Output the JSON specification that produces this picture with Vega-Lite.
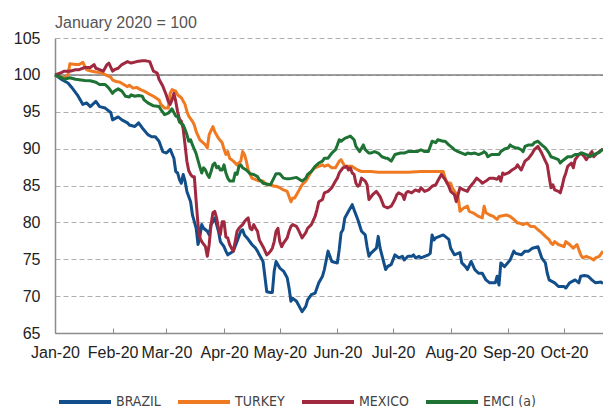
{
"$schema": "https://vega.github.io/schema/vega-lite/v6.json",
"width": 548, "height": 295,
"autosize": {"type": "none"},
"padding": {"left": 55, "top": 38, "right": 0, "bottom": 74},
"config": {"view": {"stroke": null}},
"title": {"text": "January 2020 = 100", "anchor": "start", "frame": "group", "font": "Liberation Sans", "fontSize": 16, "fontWeight": "normal", "color": "#555555", "baseline": "alphabetic", "offset": 11, "dy": 25},
"datasets": {"idx": [
{"series":"BRAZIL","date":"2020/01/01","value":100},
{"series":"BRAZIL","date":"2020/01/05","value":99.3},
{"series":"BRAZIL","date":"2020/01/08","value":98.9},
{"series":"BRAZIL","date":"2020/01/10","value":98.3},
{"series":"BRAZIL","date":"2020/01/13","value":97.3},
{"series":"BRAZIL","date":"2020/01/16","value":96.0},
{"series":"BRAZIL","date":"2020/01/18","value":96.2},
{"series":"BRAZIL","date":"2020/01/20","value":95.7},
{"series":"BRAZIL","date":"2020/01/23","value":96.4},
{"series":"BRAZIL","date":"2020/01/25","value":95.7},
{"series":"BRAZIL","date":"2020/01/28","value":95.5},
{"series":"BRAZIL","date":"2020/01/31","value":94.9},
{"series":"BRAZIL","date":"2020/02/01","value":93.9},
{"series":"BRAZIL","date":"2020/02/04","value":94.3},
{"series":"BRAZIL","date":"2020/02/06","value":93.9},
{"series":"BRAZIL","date":"2020/02/09","value":93.5},
{"series":"BRAZIL","date":"2020/02/10","value":93.2},
{"series":"BRAZIL","date":"2020/02/13","value":93.0},
{"series":"BRAZIL","date":"2020/02/15","value":93.5},
{"series":"BRAZIL","date":"2020/02/17","value":92.8},
{"series":"BRAZIL","date":"2020/02/20","value":91.9},
{"series":"BRAZIL","date":"2020/02/22","value":91.6},
{"series":"BRAZIL","date":"2020/02/24","value":91.6},
{"series":"BRAZIL","date":"2020/02/26","value":91.0},
{"series":"BRAZIL","date":"2020/02/28","value":89.6},
{"series":"BRAZIL","date":"2020/03/01","value":89.4},
{"series":"BRAZIL","date":"2020/03/03","value":89.9},
{"series":"BRAZIL","date":"2020/03/05","value":88.7},
{"series":"BRAZIL","date":"2020/03/06","value":86.9},
{"series":"BRAZIL","date":"2020/03/07","value":86.7},
{"series":"BRAZIL","date":"2020/03/08","value":85.8},
{"series":"BRAZIL","date":"2020/03/09","value":85.3},
{"series":"BRAZIL","date":"2020/03/10","value":86.5},
{"series":"BRAZIL","date":"2020/03/11","value":85.6},
{"series":"BRAZIL","date":"2020/03/12","value":84.2},
{"series":"BRAZIL","date":"2020/03/14","value":82.8},
{"series":"BRAZIL","date":"2020/03/15","value":81.0},
{"series":"BRAZIL","date":"2020/03/16","value":80.1},
{"series":"BRAZIL","date":"2020/03/17","value":79.2},
{"series":"BRAZIL","date":"2020/03/18","value":77.0},
{"series":"BRAZIL","date":"2020/03/19","value":78.1},
{"series":"BRAZIL","date":"2020/03/20","value":79.7},
{"series":"BRAZIL","date":"2020/03/21","value":79.2},
{"series":"BRAZIL","date":"2020/03/23","value":78.8},
{"series":"BRAZIL","date":"2020/03/24","value":78.3},
{"series":"BRAZIL","date":"2020/03/25","value":79.7},
{"series":"BRAZIL","date":"2020/03/26","value":80.1},
{"series":"BRAZIL","date":"2020/03/27","value":80.6},
{"series":"BRAZIL","date":"2020/03/28","value":79.7},
{"series":"BRAZIL","date":"2020/03/29","value":78.8},
{"series":"BRAZIL","date":"2020/03/30","value":77.4},
{"series":"BRAZIL","date":"2020/04/01","value":76.7},
{"series":"BRAZIL","date":"2020/04/02","value":76.1},
{"series":"BRAZIL","date":"2020/04/03","value":75.6},
{"series":"BRAZIL","date":"2020/04/06","value":76.1},
{"series":"BRAZIL","date":"2020/04/08","value":77.4},
{"series":"BRAZIL","date":"2020/04/10","value":78.8},
{"series":"BRAZIL","date":"2020/04/11","value":79.0},
{"series":"BRAZIL","date":"2020/04/12","value":78.3},
{"series":"BRAZIL","date":"2020/04/14","value":77.7},
{"series":"BRAZIL","date":"2020/04/16","value":77.0},
{"series":"BRAZIL","date":"2020/04/18","value":76.5},
{"series":"BRAZIL","date":"2020/04/19","value":76.1},
{"series":"BRAZIL","date":"2020/04/20","value":75.6},
{"series":"BRAZIL","date":"2020/04/22","value":74.7},
{"series":"BRAZIL","date":"2020/04/24","value":70.6},
{"series":"BRAZIL","date":"2020/04/26","value":70.5},
{"series":"BRAZIL","date":"2020/04/27","value":70.5},
{"series":"BRAZIL","date":"2020/04/28","value":73.4},
{"series":"BRAZIL","date":"2020/04/29","value":74.7},
{"series":"BRAZIL","date":"2020/05/01","value":73.8},
{"series":"BRAZIL","date":"2020/05/03","value":73.4},
{"series":"BRAZIL","date":"2020/05/05","value":72.5},
{"series":"BRAZIL","date":"2020/05/06","value":71.1},
{"series":"BRAZIL","date":"2020/05/07","value":69.3},
{"series":"BRAZIL","date":"2020/05/08","value":69.7},
{"series":"BRAZIL","date":"2020/05/10","value":69.3},
{"series":"BRAZIL","date":"2020/05/13","value":67.9},
{"series":"BRAZIL","date":"2020/05/15","value":68.6},
{"series":"BRAZIL","date":"2020/05/16","value":69.5},
{"series":"BRAZIL","date":"2020/05/18","value":70.2},
{"series":"BRAZIL","date":"2020/05/20","value":70.4},
{"series":"BRAZIL","date":"2020/05/22","value":71.8},
{"series":"BRAZIL","date":"2020/05/24","value":72.7},
{"series":"BRAZIL","date":"2020/05/25","value":73.6},
{"series":"BRAZIL","date":"2020/05/27","value":76.1},
{"series":"BRAZIL","date":"2020/05/29","value":74.7},
{"series":"BRAZIL","date":"2020/06/01","value":74.5},
{"series":"BRAZIL","date":"2020/06/02","value":76.3},
{"series":"BRAZIL","date":"2020/06/03","value":78.6},
{"series":"BRAZIL","date":"2020/06/04","value":79.0},
{"series":"BRAZIL","date":"2020/06/05","value":80.6},
{"series":"BRAZIL","date":"2020/06/07","value":81.5},
{"series":"BRAZIL","date":"2020/06/09","value":82.4},
{"series":"BRAZIL","date":"2020/06/10","value":81.7},
{"series":"BRAZIL","date":"2020/06/12","value":80.4},
{"series":"BRAZIL","date":"2020/06/14","value":78.8},
{"series":"BRAZIL","date":"2020/06/16","value":78.3},
{"series":"BRAZIL","date":"2020/06/17","value":76.7},
{"series":"BRAZIL","date":"2020/06/18","value":75.4},
{"series":"BRAZIL","date":"2020/06/19","value":75.8},
{"series":"BRAZIL","date":"2020/06/22","value":76.5},
{"series":"BRAZIL","date":"2020/06/23","value":78.1},
{"series":"BRAZIL","date":"2020/06/24","value":76.5},
{"series":"BRAZIL","date":"2020/06/27","value":73.6},
{"series":"BRAZIL","date":"2020/06/28","value":74.0},
{"series":"BRAZIL","date":"2020/06/30","value":74.3},
{"series":"BRAZIL","date":"2020/07/02","value":75.6},
{"series":"BRAZIL","date":"2020/07/04","value":75.2},
{"series":"BRAZIL","date":"2020/07/06","value":75.4},
{"series":"BRAZIL","date":"2020/07/07","value":74.9},
{"series":"BRAZIL","date":"2020/07/09","value":75.4},
{"series":"BRAZIL","date":"2020/07/11","value":75.4},
{"series":"BRAZIL","date":"2020/07/12","value":75.6},
{"series":"BRAZIL","date":"2020/07/13","value":75.2},
{"series":"BRAZIL","date":"2020/07/15","value":75.4},
{"series":"BRAZIL","date":"2020/07/16","value":75.2},
{"series":"BRAZIL","date":"2020/07/18","value":75.4},
{"series":"BRAZIL","date":"2020/07/20","value":75.6},
{"series":"BRAZIL","date":"2020/07/21","value":75.8},
{"series":"BRAZIL","date":"2020/07/22","value":78.3},
{"series":"BRAZIL","date":"2020/07/23","value":77.6},
{"series":"BRAZIL","date":"2020/07/24","value":77.9},
{"series":"BRAZIL","date":"2020/07/26","value":78.1},
{"series":"BRAZIL","date":"2020/07/28","value":78.3},
{"series":"BRAZIL","date":"2020/07/29","value":78.1},
{"series":"BRAZIL","date":"2020/07/31","value":77.7},
{"series":"BRAZIL","date":"2020/08/01","value":76.5},
{"series":"BRAZIL","date":"2020/08/03","value":75.6},
{"series":"BRAZIL","date":"2020/08/06","value":75.9},
{"series":"BRAZIL","date":"2020/08/07","value":74.5},
{"series":"BRAZIL","date":"2020/08/09","value":74.0},
{"series":"BRAZIL","date":"2020/08/10","value":73.6},
{"series":"BRAZIL","date":"2020/08/12","value":74.7},
{"series":"BRAZIL","date":"2020/08/14","value":73.6},
{"series":"BRAZIL","date":"2020/08/16","value":73.1},
{"series":"BRAZIL","date":"2020/08/18","value":73.1},
{"series":"BRAZIL","date":"2020/08/20","value":72.2},
{"series":"BRAZIL","date":"2020/08/22","value":71.8},
{"series":"BRAZIL","date":"2020/08/25","value":71.8},
{"series":"BRAZIL","date":"2020/08/26","value":72.7},
{"series":"BRAZIL","date":"2020/08/27","value":71.5},
{"series":"BRAZIL","date":"2020/08/28","value":74.5},
{"series":"BRAZIL","date":"2020/08/30","value":74.0},
{"series":"BRAZIL","date":"2020/09/02","value":74.9},
{"series":"BRAZIL","date":"2020/09/04","value":76.1},
{"series":"BRAZIL","date":"2020/09/05","value":75.8},
{"series":"BRAZIL","date":"2020/09/08","value":75.6},
{"series":"BRAZIL","date":"2020/09/10","value":76.1},
{"series":"BRAZIL","date":"2020/09/12","value":76.1},
{"series":"BRAZIL","date":"2020/09/14","value":76.5},
{"series":"BRAZIL","date":"2020/09/17","value":76.7},
{"series":"BRAZIL","date":"2020/09/19","value":75.2},
{"series":"BRAZIL","date":"2020/09/21","value":74.5},
{"series":"BRAZIL","date":"2020/09/22","value":73.1},
{"series":"BRAZIL","date":"2020/09/23","value":72.2},
{"series":"BRAZIL","date":"2020/09/26","value":71.8},
{"series":"BRAZIL","date":"2020/09/28","value":71.3},
{"series":"BRAZIL","date":"2020/10/01","value":71.3},
{"series":"BRAZIL","date":"2020/10/02","value":71.1},
{"series":"BRAZIL","date":"2020/10/04","value":71.8},
{"series":"BRAZIL","date":"2020/10/07","value":72.2},
{"series":"BRAZIL","date":"2020/10/09","value":71.8},
{"series":"BRAZIL","date":"2020/10/10","value":72.7},
{"series":"BRAZIL","date":"2020/10/12","value":72.8},
{"series":"BRAZIL","date":"2020/10/14","value":72.7},
{"series":"BRAZIL","date":"2020/10/16","value":72.2},
{"series":"BRAZIL","date":"2020/10/18","value":71.8},
{"series":"BRAZIL","date":"2020/10/21","value":71.9},
{"series":"BRAZIL","date":"2020/10/22","value":71.7},
{"series":"TURKEY","date":"2020/01/01","value":100},
{"series":"TURKEY","date":"2020/01/04","value":99.7},
{"series":"TURKEY","date":"2020/01/06","value":99.6},
{"series":"TURKEY","date":"2020/01/08","value":100.0},
{"series":"TURKEY","date":"2020/01/09","value":101.5},
{"series":"TURKEY","date":"2020/01/12","value":101.4},
{"series":"TURKEY","date":"2020/01/14","value":101.4},
{"series":"TURKEY","date":"2020/01/16","value":101.7},
{"series":"TURKEY","date":"2020/01/18","value":100.7},
{"series":"TURKEY","date":"2020/01/21","value":100.5},
{"series":"TURKEY","date":"2020/01/23","value":100.4},
{"series":"TURKEY","date":"2020/01/26","value":100.3},
{"series":"TURKEY","date":"2020/01/29","value":99.9},
{"series":"TURKEY","date":"2020/01/31","value":99.7},
{"series":"TURKEY","date":"2020/02/01","value":99.3},
{"series":"TURKEY","date":"2020/02/03","value":99.1},
{"series":"TURKEY","date":"2020/02/05","value":99.0},
{"series":"TURKEY","date":"2020/02/07","value":98.7},
{"series":"TURKEY","date":"2020/02/09","value":98.4},
{"series":"TURKEY","date":"2020/02/10","value":98.6},
{"series":"TURKEY","date":"2020/02/12","value":98.2},
{"series":"TURKEY","date":"2020/02/14","value":98.3},
{"series":"TURKEY","date":"2020/02/16","value":98.0},
{"series":"TURKEY","date":"2020/02/18","value":97.8},
{"series":"TURKEY","date":"2020/02/20","value":97.5},
{"series":"TURKEY","date":"2020/02/23","value":97.1},
{"series":"TURKEY","date":"2020/02/26","value":96.6},
{"series":"TURKEY","date":"2020/02/27","value":96.0},
{"series":"TURKEY","date":"2020/02/29","value":95.5},
{"series":"TURKEY","date":"2020/03/02","value":95.5},
{"series":"TURKEY","date":"2020/03/03","value":97.5},
{"series":"TURKEY","date":"2020/03/04","value":98.0},
{"series":"TURKEY","date":"2020/03/06","value":97.8},
{"series":"TURKEY","date":"2020/03/07","value":97.3},
{"series":"TURKEY","date":"2020/03/09","value":96.9},
{"series":"TURKEY","date":"2020/03/11","value":96.0},
{"series":"TURKEY","date":"2020/03/12","value":95.05},
{"series":"TURKEY","date":"2020/03/13","value":94.4},
{"series":"TURKEY","date":"2020/03/15","value":93.7},
{"series":"TURKEY","date":"2020/03/16","value":93.2},
{"series":"TURKEY","date":"2020/03/17","value":92.3},
{"series":"TURKEY","date":"2020/03/19","value":91.2},
{"series":"TURKEY","date":"2020/03/22","value":90.5},
{"series":"TURKEY","date":"2020/03/23","value":90.1},
{"series":"TURKEY","date":"2020/03/24","value":91.9},
{"series":"TURKEY","date":"2020/03/26","value":93.0},
{"series":"TURKEY","date":"2020/03/27","value":92.3},
{"series":"TURKEY","date":"2020/03/29","value":91.4},
{"series":"TURKEY","date":"2020/03/31","value":90.8},
{"series":"TURKEY","date":"2020/04/01","value":89.9},
{"series":"TURKEY","date":"2020/04/02","value":89.2},
{"series":"TURKEY","date":"2020/04/03","value":89.6},
{"series":"TURKEY","date":"2020/04/04","value":88.7},
{"series":"TURKEY","date":"2020/04/06","value":88.3},
{"series":"TURKEY","date":"2020/04/08","value":87.8},
{"series":"TURKEY","date":"2020/04/10","value":88.3},
{"series":"TURKEY","date":"2020/04/11","value":89.6},
{"series":"TURKEY","date":"2020/04/12","value":89.2},
{"series":"TURKEY","date":"2020/04/13","value":88.3},
{"series":"TURKEY","date":"2020/04/14","value":87.1},
{"series":"TURKEY","date":"2020/04/16","value":86.0},
{"series":"TURKEY","date":"2020/04/18","value":85.8},
{"series":"TURKEY","date":"2020/04/20","value":85.6},
{"series":"TURKEY","date":"2020/04/22","value":85.6},
{"series":"TURKEY","date":"2020/04/24","value":85.1},
{"series":"TURKEY","date":"2020/04/26","value":85.1},
{"series":"TURKEY","date":"2020/04/28","value":84.9},
{"series":"TURKEY","date":"2020/04/29","value":84.9},
{"series":"TURKEY","date":"2020/05/01","value":84.7},
{"series":"TURKEY","date":"2020/05/03","value":84.4},
{"series":"TURKEY","date":"2020/05/05","value":84.2},
{"series":"TURKEY","date":"2020/05/07","value":82.8},
{"series":"TURKEY","date":"2020/05/08","value":83.3},
{"series":"TURKEY","date":"2020/05/09","value":83.3},
{"series":"TURKEY","date":"2020/05/11","value":84.2},
{"series":"TURKEY","date":"2020/05/13","value":85.1},
{"series":"TURKEY","date":"2020/05/15","value":85.6},
{"series":"TURKEY","date":"2020/05/16","value":86.0},
{"series":"TURKEY","date":"2020/05/18","value":86.9},
{"series":"TURKEY","date":"2020/05/20","value":87.4},
{"series":"TURKEY","date":"2020/05/22","value":87.6},
{"series":"TURKEY","date":"2020/05/24","value":87.8},
{"series":"TURKEY","date":"2020/05/25","value":87.6},
{"series":"TURKEY","date":"2020/05/27","value":87.8},
{"series":"TURKEY","date":"2020/05/29","value":87.4},
{"series":"TURKEY","date":"2020/05/31","value":87.4},
{"series":"TURKEY","date":"2020/06/02","value":88.3},
{"series":"TURKEY","date":"2020/06/03","value":88.5},
{"series":"TURKEY","date":"2020/06/04","value":88.05},
{"series":"TURKEY","date":"2020/06/05","value":87.6},
{"series":"TURKEY","date":"2020/06/09","value":87.6},
{"series":"TURKEY","date":"2020/06/10","value":87.4},
{"series":"TURKEY","date":"2020/06/12","value":87.1},
{"series":"TURKEY","date":"2020/06/14","value":86.9},
{"series":"TURKEY","date":"2020/06/19","value":86.9},
{"series":"TURKEY","date":"2020/06/23","value":86.8},
{"series":"TURKEY","date":"2020/06/27","value":86.8},
{"series":"TURKEY","date":"2020/07/02","value":86.8},
{"series":"TURKEY","date":"2020/07/09","value":86.8},
{"series":"TURKEY","date":"2020/07/16","value":86.9},
{"series":"TURKEY","date":"2020/07/20","value":86.9},
{"series":"TURKEY","date":"2020/07/28","value":86.9},
{"series":"TURKEY","date":"2020/07/29","value":86.0},
{"series":"TURKEY","date":"2020/07/30","value":85.4},
{"series":"TURKEY","date":"2020/08/01","value":85.3},
{"series":"TURKEY","date":"2020/08/02","value":84.6},
{"series":"TURKEY","date":"2020/08/05","value":83.5},
{"series":"TURKEY","date":"2020/08/06","value":81.5},
{"series":"TURKEY","date":"2020/08/08","value":81.95},
{"series":"TURKEY","date":"2020/08/10","value":82.2},
{"series":"TURKEY","date":"2020/08/11","value":81.5},
{"series":"TURKEY","date":"2020/08/13","value":81.3},
{"series":"TURKEY","date":"2020/08/16","value":80.8},
{"series":"TURKEY","date":"2020/08/18","value":80.6},
{"series":"TURKEY","date":"2020/08/19","value":82.2},
{"series":"TURKEY","date":"2020/08/20","value":81.3},
{"series":"TURKEY","date":"2020/08/22","value":81.0},
{"series":"TURKEY","date":"2020/08/24","value":80.8},
{"series":"TURKEY","date":"2020/08/26","value":80.4},
{"series":"TURKEY","date":"2020/08/27","value":80.8},
{"series":"TURKEY","date":"2020/08/31","value":81.0},
{"series":"TURKEY","date":"2020/09/02","value":80.8},
{"series":"TURKEY","date":"2020/09/04","value":80.4},
{"series":"TURKEY","date":"2020/09/06","value":79.9},
{"series":"TURKEY","date":"2020/09/07","value":79.9},
{"series":"TURKEY","date":"2020/09/09","value":79.7},
{"series":"TURKEY","date":"2020/09/11","value":79.9},
{"series":"TURKEY","date":"2020/09/13","value":79.45},
{"series":"TURKEY","date":"2020/09/15","value":79.45},
{"series":"TURKEY","date":"2020/09/17","value":79.0},
{"series":"TURKEY","date":"2020/09/19","value":78.6},
{"series":"TURKEY","date":"2020/09/21","value":78.1},
{"series":"TURKEY","date":"2020/09/23","value":77.65},
{"series":"TURKEY","date":"2020/09/24","value":77.2},
{"series":"TURKEY","date":"2020/09/25","value":77.0},
{"series":"TURKEY","date":"2020/09/26","value":77.4},
{"series":"TURKEY","date":"2020/09/28","value":77.0},
{"series":"TURKEY","date":"2020/10/01","value":76.7},
{"series":"TURKEY","date":"2020/10/02","value":77.4},
{"series":"TURKEY","date":"2020/10/04","value":77.0},
{"series":"TURKEY","date":"2020/10/06","value":76.5},
{"series":"TURKEY","date":"2020/10/08","value":77.0},
{"series":"TURKEY","date":"2020/10/10","value":75.6},
{"series":"TURKEY","date":"2020/10/11","value":75.2},
{"series":"TURKEY","date":"2020/10/13","value":75.4},
{"series":"TURKEY","date":"2020/10/15","value":75.2},
{"series":"TURKEY","date":"2020/10/17","value":74.9},
{"series":"TURKEY","date":"2020/10/18","value":75.2},
{"series":"TURKEY","date":"2020/10/20","value":75.4},
{"series":"TURKEY","date":"2020/10/22","value":76.1},
{"series":"MEXICO","date":"2020/01/01","value":100},
{"series":"MEXICO","date":"2020/01/04","value":100.25},
{"series":"MEXICO","date":"2020/01/06","value":100.5},
{"series":"MEXICO","date":"2020/01/09","value":100.5},
{"series":"MEXICO","date":"2020/01/12","value":100.7},
{"series":"MEXICO","date":"2020/01/14","value":100.7},
{"series":"MEXICO","date":"2020/01/17","value":101.0},
{"series":"MEXICO","date":"2020/01/20","value":101.0},
{"series":"MEXICO","date":"2020/01/22","value":101.4},
{"series":"MEXICO","date":"2020/01/23","value":100.9},
{"series":"MEXICO","date":"2020/01/25","value":100.7},
{"series":"MEXICO","date":"2020/01/27","value":100.5},
{"series":"MEXICO","date":"2020/01/29","value":101.4},
{"series":"MEXICO","date":"2020/01/30","value":101.6},
{"series":"MEXICO","date":"2020/02/01","value":100.5},
{"series":"MEXICO","date":"2020/02/02","value":100.7},
{"series":"MEXICO","date":"2020/02/04","value":100.9},
{"series":"MEXICO","date":"2020/02/06","value":101.4},
{"series":"MEXICO","date":"2020/02/09","value":101.8},
{"series":"MEXICO","date":"2020/02/11","value":101.6},
{"series":"MEXICO","date":"2020/02/14","value":101.8},
{"series":"MEXICO","date":"2020/02/17","value":101.9},
{"series":"MEXICO","date":"2020/02/19","value":101.9},
{"series":"MEXICO","date":"2020/02/21","value":101.8},
{"series":"MEXICO","date":"2020/02/23","value":100.5},
{"series":"MEXICO","date":"2020/02/25","value":100.25},
{"series":"MEXICO","date":"2020/02/26","value":99.4},
{"series":"MEXICO","date":"2020/02/28","value":98.5},
{"series":"MEXICO","date":"2020/03/01","value":97.2},
{"series":"MEXICO","date":"2020/03/02","value":96.4},
{"series":"MEXICO","date":"2020/03/03","value":96.0},
{"series":"MEXICO","date":"2020/03/04","value":96.6},
{"series":"MEXICO","date":"2020/03/05","value":97.5},
{"series":"MEXICO","date":"2020/03/06","value":96.4},
{"series":"MEXICO","date":"2020/03/07","value":95.0},
{"series":"MEXICO","date":"2020/03/08","value":94.0},
{"series":"MEXICO","date":"2020/03/09","value":93.7},
{"series":"MEXICO","date":"2020/03/10","value":92.7},
{"series":"MEXICO","date":"2020/03/11","value":90.5},
{"series":"MEXICO","date":"2020/03/12","value":88.3},
{"series":"MEXICO","date":"2020/03/13","value":87.0},
{"series":"MEXICO","date":"2020/03/14","value":86.5},
{"series":"MEXICO","date":"2020/03/15","value":86.2},
{"series":"MEXICO","date":"2020/03/16","value":86.2},
{"series":"MEXICO","date":"2020/03/17","value":82.8},
{"series":"MEXICO","date":"2020/03/18","value":79.7},
{"series":"MEXICO","date":"2020/03/19","value":77.9},
{"series":"MEXICO","date":"2020/03/20","value":77.4},
{"series":"MEXICO","date":"2020/03/22","value":76.7},
{"series":"MEXICO","date":"2020/03/23","value":75.4},
{"series":"MEXICO","date":"2020/03/24","value":77.0},
{"series":"MEXICO","date":"2020/03/25","value":79.7},
{"series":"MEXICO","date":"2020/03/26","value":81.3},
{"series":"MEXICO","date":"2020/03/27","value":81.5},
{"series":"MEXICO","date":"2020/03/28","value":80.6},
{"series":"MEXICO","date":"2020/03/29","value":79.2},
{"series":"MEXICO","date":"2020/03/30","value":78.3},
{"series":"MEXICO","date":"2020/03/31","value":80.1},
{"series":"MEXICO","date":"2020/04/01","value":80.1},
{"series":"MEXICO","date":"2020/04/02","value":78.0},
{"series":"MEXICO","date":"2020/04/03","value":77.9},
{"series":"MEXICO","date":"2020/04/04","value":77.0},
{"series":"MEXICO","date":"2020/04/05","value":76.5},
{"series":"MEXICO","date":"2020/04/06","value":76.1},
{"series":"MEXICO","date":"2020/04/07","value":77.4},
{"series":"MEXICO","date":"2020/04/08","value":78.8},
{"series":"MEXICO","date":"2020/04/09","value":79.2},
{"series":"MEXICO","date":"2020/04/10","value":79.45},
{"series":"MEXICO","date":"2020/04/11","value":79.7},
{"series":"MEXICO","date":"2020/04/12","value":80.1},
{"series":"MEXICO","date":"2020/04/13","value":80.4},
{"series":"MEXICO","date":"2020/04/14","value":80.6},
{"series":"MEXICO","date":"2020/04/15","value":79.2},
{"series":"MEXICO","date":"2020/04/16","value":79.0},
{"series":"MEXICO","date":"2020/04/17","value":79.7},
{"series":"MEXICO","date":"2020/04/18","value":79.2},
{"series":"MEXICO","date":"2020/04/19","value":78.8},
{"series":"MEXICO","date":"2020/04/20","value":77.6},
{"series":"MEXICO","date":"2020/04/22","value":76.7},
{"series":"MEXICO","date":"2020/04/24","value":75.6},
{"series":"MEXICO","date":"2020/04/25","value":75.8},
{"series":"MEXICO","date":"2020/04/26","value":76.1},
{"series":"MEXICO","date":"2020/04/27","value":76.5},
{"series":"MEXICO","date":"2020/04/28","value":77.4},
{"series":"MEXICO","date":"2020/04/29","value":78.8},
{"series":"MEXICO","date":"2020/04/30","value":79.2},
{"series":"MEXICO","date":"2020/05/01","value":77.4},
{"series":"MEXICO","date":"2020/05/02","value":76.7},
{"series":"MEXICO","date":"2020/05/03","value":77.2},
{"series":"MEXICO","date":"2020/05/05","value":77.9},
{"series":"MEXICO","date":"2020/05/06","value":78.8},
{"series":"MEXICO","date":"2020/05/07","value":79.45},
{"series":"MEXICO","date":"2020/05/08","value":79.7},
{"series":"MEXICO","date":"2020/05/10","value":79.45},
{"series":"MEXICO","date":"2020/05/11","value":79.0},
{"series":"MEXICO","date":"2020/05/13","value":77.9},
{"series":"MEXICO","date":"2020/05/15","value":78.6},
{"series":"MEXICO","date":"2020/05/16","value":79.2},
{"series":"MEXICO","date":"2020/05/18","value":79.7},
{"series":"MEXICO","date":"2020/05/20","value":80.8},
{"series":"MEXICO","date":"2020/05/21","value":81.7},
{"series":"MEXICO","date":"2020/05/22","value":82.8},
{"series":"MEXICO","date":"2020/05/24","value":83.1},
{"series":"MEXICO","date":"2020/05/25","value":84.0},
{"series":"MEXICO","date":"2020/05/27","value":84.2},
{"series":"MEXICO","date":"2020/05/29","value":84.7},
{"series":"MEXICO","date":"2020/05/31","value":85.6},
{"series":"MEXICO","date":"2020/06/01","value":86.0},
{"series":"MEXICO","date":"2020/06/02","value":86.7},
{"series":"MEXICO","date":"2020/06/04","value":87.4},
{"series":"MEXICO","date":"2020/06/06","value":87.6},
{"series":"MEXICO","date":"2020/06/07","value":87.1},
{"series":"MEXICO","date":"2020/06/08","value":87.4},
{"series":"MEXICO","date":"2020/06/09","value":86.7},
{"series":"MEXICO","date":"2020/06/10","value":86.5},
{"series":"MEXICO","date":"2020/06/11","value":85.3},
{"series":"MEXICO","date":"2020/06/12","value":84.9},
{"series":"MEXICO","date":"2020/06/13","value":85.1},
{"series":"MEXICO","date":"2020/06/14","value":86.0},
{"series":"MEXICO","date":"2020/06/16","value":85.6},
{"series":"MEXICO","date":"2020/06/17","value":85.1},
{"series":"MEXICO","date":"2020/06/18","value":83.1},
{"series":"MEXICO","date":"2020/06/20","value":83.75},
{"series":"MEXICO","date":"2020/06/22","value":84.2},
{"series":"MEXICO","date":"2020/06/24","value":83.5},
{"series":"MEXICO","date":"2020/06/26","value":82.2},
{"series":"MEXICO","date":"2020/06/28","value":81.95},
{"series":"MEXICO","date":"2020/06/30","value":82.2},
{"series":"MEXICO","date":"2020/07/02","value":83.1},
{"series":"MEXICO","date":"2020/07/03","value":83.75},
{"series":"MEXICO","date":"2020/07/04","value":84.0},
{"series":"MEXICO","date":"2020/07/06","value":83.75},
{"series":"MEXICO","date":"2020/07/07","value":83.1},
{"series":"MEXICO","date":"2020/07/08","value":84.0},
{"series":"MEXICO","date":"2020/07/09","value":84.2},
{"series":"MEXICO","date":"2020/07/11","value":84.0},
{"series":"MEXICO","date":"2020/07/13","value":84.4},
{"series":"MEXICO","date":"2020/07/15","value":84.2},
{"series":"MEXICO","date":"2020/07/16","value":84.7},
{"series":"MEXICO","date":"2020/07/18","value":84.2},
{"series":"MEXICO","date":"2020/07/20","value":84.4},
{"series":"MEXICO","date":"2020/07/22","value":84.9},
{"series":"MEXICO","date":"2020/07/24","value":85.1},
{"series":"MEXICO","date":"2020/07/25","value":85.6},
{"series":"MEXICO","date":"2020/07/27","value":86.5},
{"series":"MEXICO","date":"2020/07/29","value":85.8},
{"series":"MEXICO","date":"2020/07/31","value":84.9},
{"series":"MEXICO","date":"2020/08/01","value":84.2},
{"series":"MEXICO","date":"2020/08/03","value":83.75},
{"series":"MEXICO","date":"2020/08/04","value":82.8},
{"series":"MEXICO","date":"2020/08/05","value":83.75},
{"series":"MEXICO","date":"2020/08/06","value":84.7},
{"series":"MEXICO","date":"2020/08/08","value":84.4},
{"series":"MEXICO","date":"2020/08/10","value":84.2},
{"series":"MEXICO","date":"2020/08/11","value":84.7},
{"series":"MEXICO","date":"2020/08/13","value":85.3},
{"series":"MEXICO","date":"2020/08/15","value":86.0},
{"series":"MEXICO","date":"2020/08/17","value":85.6},
{"series":"MEXICO","date":"2020/08/18","value":85.3},
{"series":"MEXICO","date":"2020/08/20","value":85.6},
{"series":"MEXICO","date":"2020/08/22","value":86.0},
{"series":"MEXICO","date":"2020/08/24","value":86.0},
{"series":"MEXICO","date":"2020/08/26","value":85.85},
{"series":"MEXICO","date":"2020/08/27","value":86.2},
{"series":"MEXICO","date":"2020/08/28","value":85.6},
{"series":"MEXICO","date":"2020/08/29","value":86.7},
{"series":"MEXICO","date":"2020/08/30","value":86.5},
{"series":"MEXICO","date":"2020/09/01","value":86.7},
{"series":"MEXICO","date":"2020/09/03","value":87.1},
{"series":"MEXICO","date":"2020/09/05","value":87.4},
{"series":"MEXICO","date":"2020/09/06","value":87.8},
{"series":"MEXICO","date":"2020/09/08","value":87.1},
{"series":"MEXICO","date":"2020/09/10","value":88.3},
{"series":"MEXICO","date":"2020/09/12","value":88.7},
{"series":"MEXICO","date":"2020/09/14","value":89.4},
{"series":"MEXICO","date":"2020/09/15","value":89.85},
{"series":"MEXICO","date":"2020/09/17","value":90.3},
{"series":"MEXICO","date":"2020/09/19","value":89.4},
{"series":"MEXICO","date":"2020/09/21","value":88.3},
{"series":"MEXICO","date":"2020/09/22","value":87.8},
{"series":"MEXICO","date":"2020/09/23","value":86.2},
{"series":"MEXICO","date":"2020/09/24","value":84.7},
{"series":"MEXICO","date":"2020/09/25","value":85.1},
{"series":"MEXICO","date":"2020/09/26","value":84.4},
{"series":"MEXICO","date":"2020/09/28","value":84.2},
{"series":"MEXICO","date":"2020/09/29","value":84.0},
{"series":"MEXICO","date":"2020/09/30","value":84.9},
{"series":"MEXICO","date":"2020/10/01","value":86.0},
{"series":"MEXICO","date":"2020/10/02","value":86.7},
{"series":"MEXICO","date":"2020/10/03","value":87.6},
{"series":"MEXICO","date":"2020/10/05","value":88.05},
{"series":"MEXICO","date":"2020/10/06","value":87.4},
{"series":"MEXICO","date":"2020/10/07","value":88.5},
{"series":"MEXICO","date":"2020/10/09","value":89.2},
{"series":"MEXICO","date":"2020/10/10","value":89.4},
{"series":"MEXICO","date":"2020/10/12","value":88.9},
{"series":"MEXICO","date":"2020/10/13","value":88.5},
{"series":"MEXICO","date":"2020/10/14","value":88.9},
{"series":"MEXICO","date":"2020/10/16","value":89.6},
{"series":"MEXICO","date":"2020/10/17","value":88.9},
{"series":"MEXICO","date":"2020/10/19","value":89.4},
{"series":"MEXICO","date":"2020/10/20","value":89.6},
{"series":"MEXICO","date":"2020/10/22","value":89.95},
{"series":"EMCI (a)","date":"2020/01/01","value":100},
{"series":"EMCI (a)","date":"2020/01/04","value":99.7},
{"series":"EMCI (a)","date":"2020/01/06","value":99.4},
{"series":"EMCI (a)","date":"2020/01/09","value":99.6},
{"series":"EMCI (a)","date":"2020/01/12","value":99.4},
{"series":"EMCI (a)","date":"2020/01/14","value":99.35},
{"series":"EMCI (a)","date":"2020/01/17","value":99.25},
{"series":"EMCI (a)","date":"2020/01/20","value":99.2},
{"series":"EMCI (a)","date":"2020/01/23","value":99.0},
{"series":"EMCI (a)","date":"2020/01/25","value":98.7},
{"series":"EMCI (a)","date":"2020/01/28","value":98.7},
{"series":"EMCI (a)","date":"2020/01/30","value":98.2},
{"series":"EMCI (a)","date":"2020/02/01","value":97.5},
{"series":"EMCI (a)","date":"2020/02/02","value":97.8},
{"series":"EMCI (a)","date":"2020/02/04","value":98.1},
{"series":"EMCI (a)","date":"2020/02/06","value":97.8},
{"series":"EMCI (a)","date":"2020/02/08","value":97.1},
{"series":"EMCI (a)","date":"2020/02/10","value":97.0},
{"series":"EMCI (a)","date":"2020/02/11","value":97.3},
{"series":"EMCI (a)","date":"2020/02/13","value":97.1},
{"series":"EMCI (a)","date":"2020/02/15","value":97.2},
{"series":"EMCI (a)","date":"2020/02/17","value":97.1},
{"series":"EMCI (a)","date":"2020/02/18","value":96.6},
{"series":"EMCI (a)","date":"2020/02/20","value":96.2},
{"series":"EMCI (a)","date":"2020/02/23","value":95.8},
{"series":"EMCI (a)","date":"2020/02/26","value":95.7},
{"series":"EMCI (a)","date":"2020/02/27","value":95.3},
{"series":"EMCI (a)","date":"2020/02/29","value":94.6},
{"series":"EMCI (a)","date":"2020/03/02","value":94.8},
{"series":"EMCI (a)","date":"2020/03/04","value":95.4},
{"series":"EMCI (a)","date":"2020/03/06","value":94.4},
{"series":"EMCI (a)","date":"2020/03/07","value":94.4},
{"series":"EMCI (a)","date":"2020/03/08","value":93.6},
{"series":"EMCI (a)","date":"2020/03/10","value":93.2},
{"series":"EMCI (a)","date":"2020/03/11","value":92.6},
{"series":"EMCI (a)","date":"2020/03/12","value":91.9},
{"series":"EMCI (a)","date":"2020/03/13","value":91.0},
{"series":"EMCI (a)","date":"2020/03/14","value":91.2},
{"series":"EMCI (a)","date":"2020/03/15","value":90.5},
{"series":"EMCI (a)","date":"2020/03/17","value":89.3},
{"series":"EMCI (a)","date":"2020/03/19","value":87.5},
{"series":"EMCI (a)","date":"2020/03/20","value":86.7},
{"series":"EMCI (a)","date":"2020/03/21","value":87.4},
{"series":"EMCI (a)","date":"2020/03/22","value":87.1},
{"series":"EMCI (a)","date":"2020/03/23","value":86.5},
{"series":"EMCI (a)","date":"2020/03/24","value":86.1},
{"series":"EMCI (a)","date":"2020/03/25","value":86.9},
{"series":"EMCI (a)","date":"2020/03/26","value":87.8},
{"series":"EMCI (a)","date":"2020/03/27","value":88.05},
{"series":"EMCI (a)","date":"2020/03/28","value":87.4},
{"series":"EMCI (a)","date":"2020/03/29","value":87.6},
{"series":"EMCI (a)","date":"2020/03/30","value":87.1},
{"series":"EMCI (a)","date":"2020/03/31","value":87.1},
{"series":"EMCI (a)","date":"2020/04/01","value":87.8},
{"series":"EMCI (a)","date":"2020/04/02","value":86.7},
{"series":"EMCI (a)","date":"2020/04/03","value":86.0},
{"series":"EMCI (a)","date":"2020/04/04","value":85.6},
{"series":"EMCI (a)","date":"2020/04/05","value":85.6},
{"series":"EMCI (a)","date":"2020/04/06","value":85.6},
{"series":"EMCI (a)","date":"2020/04/07","value":86.7},
{"series":"EMCI (a)","date":"2020/04/08","value":86.5},
{"series":"EMCI (a)","date":"2020/04/09","value":87.6},
{"series":"EMCI (a)","date":"2020/04/10","value":87.8},
{"series":"EMCI (a)","date":"2020/04/11","value":87.4},
{"series":"EMCI (a)","date":"2020/04/13","value":87.1},
{"series":"EMCI (a)","date":"2020/04/15","value":86.6},
{"series":"EMCI (a)","date":"2020/04/17","value":86.5},
{"series":"EMCI (a)","date":"2020/04/19","value":86.2},
{"series":"EMCI (a)","date":"2020/04/20","value":85.8},
{"series":"EMCI (a)","date":"2020/04/21","value":85.6},
{"series":"EMCI (a)","date":"2020/04/22","value":85.3},
{"series":"EMCI (a)","date":"2020/04/24","value":85.2},
{"series":"EMCI (a)","date":"2020/04/26","value":85.1},
{"series":"EMCI (a)","date":"2020/04/27","value":85.6},
{"series":"EMCI (a)","date":"2020/04/29","value":86.6},
{"series":"EMCI (a)","date":"2020/05/01","value":86.6},
{"series":"EMCI (a)","date":"2020/05/03","value":86.0},
{"series":"EMCI (a)","date":"2020/05/05","value":85.9},
{"series":"EMCI (a)","date":"2020/05/06","value":85.9},
{"series":"EMCI (a)","date":"2020/05/08","value":86.0},
{"series":"EMCI (a)","date":"2020/05/10","value":86.1},
{"series":"EMCI (a)","date":"2020/05/13","value":85.6},
{"series":"EMCI (a)","date":"2020/05/15","value":86.0},
{"series":"EMCI (a)","date":"2020/05/16","value":86.5},
{"series":"EMCI (a)","date":"2020/05/18","value":86.9},
{"series":"EMCI (a)","date":"2020/05/20","value":87.6},
{"series":"EMCI (a)","date":"2020/05/22","value":88.05},
{"series":"EMCI (a)","date":"2020/05/24","value":88.3},
{"series":"EMCI (a)","date":"2020/05/25","value":88.7},
{"series":"EMCI (a)","date":"2020/05/27","value":88.7},
{"series":"EMCI (a)","date":"2020/05/29","value":89.4},
{"series":"EMCI (a)","date":"2020/05/31","value":89.85},
{"series":"EMCI (a)","date":"2020/06/01","value":90.5},
{"series":"EMCI (a)","date":"2020/06/02","value":91.2},
{"series":"EMCI (a)","date":"2020/06/03","value":91.0},
{"series":"EMCI (a)","date":"2020/06/05","value":91.4},
{"series":"EMCI (a)","date":"2020/06/08","value":91.7},
{"series":"EMCI (a)","date":"2020/06/10","value":91.2},
{"series":"EMCI (a)","date":"2020/06/11","value":90.3},
{"series":"EMCI (a)","date":"2020/06/13","value":89.6},
{"series":"EMCI (a)","date":"2020/06/15","value":90.5},
{"series":"EMCI (a)","date":"2020/06/16","value":89.85},
{"series":"EMCI (a)","date":"2020/06/18","value":89.4},
{"series":"EMCI (a)","date":"2020/06/19","value":89.4},
{"series":"EMCI (a)","date":"2020/06/21","value":89.6},
{"series":"EMCI (a)","date":"2020/06/23","value":89.4},
{"series":"EMCI (a)","date":"2020/06/25","value":88.9},
{"series":"EMCI (a)","date":"2020/06/27","value":88.7},
{"series":"EMCI (a)","date":"2020/06/28","value":88.7},
{"series":"EMCI (a)","date":"2020/06/30","value":88.3},
{"series":"EMCI (a)","date":"2020/07/02","value":89.2},
{"series":"EMCI (a)","date":"2020/07/05","value":89.4},
{"series":"EMCI (a)","date":"2020/07/07","value":89.4},
{"series":"EMCI (a)","date":"2020/07/09","value":89.6},
{"series":"EMCI (a)","date":"2020/07/12","value":89.6},
{"series":"EMCI (a)","date":"2020/07/14","value":89.6},
{"series":"EMCI (a)","date":"2020/07/16","value":89.85},
{"series":"EMCI (a)","date":"2020/07/18","value":89.6},
{"series":"EMCI (a)","date":"2020/07/20","value":89.6},
{"series":"EMCI (a)","date":"2020/07/21","value":90.3},
{"series":"EMCI (a)","date":"2020/07/22","value":91.0},
{"series":"EMCI (a)","date":"2020/07/24","value":90.8},
{"series":"EMCI (a)","date":"2020/07/25","value":91.2},
{"series":"EMCI (a)","date":"2020/07/28","value":91.0},
{"series":"EMCI (a)","date":"2020/07/29","value":91.0},
{"series":"EMCI (a)","date":"2020/07/31","value":90.5},
{"series":"EMCI (a)","date":"2020/08/02","value":90.1},
{"series":"EMCI (a)","date":"2020/08/03","value":89.85},
{"series":"EMCI (a)","date":"2020/08/05","value":89.6},
{"series":"EMCI (a)","date":"2020/08/07","value":89.4},
{"series":"EMCI (a)","date":"2020/08/09","value":89.2},
{"series":"EMCI (a)","date":"2020/08/10","value":89.4},
{"series":"EMCI (a)","date":"2020/08/12","value":89.3},
{"series":"EMCI (a)","date":"2020/08/14","value":89.4},
{"series":"EMCI (a)","date":"2020/08/16","value":89.2},
{"series":"EMCI (a)","date":"2020/08/18","value":89.4},
{"series":"EMCI (a)","date":"2020/08/19","value":89.6},
{"series":"EMCI (a)","date":"2020/08/20","value":89.4},
{"series":"EMCI (a)","date":"2020/08/21","value":88.9},
{"series":"EMCI (a)","date":"2020/08/23","value":89.2},
{"series":"EMCI (a)","date":"2020/08/27","value":89.2},
{"series":"EMCI (a)","date":"2020/08/28","value":89.6},
{"series":"EMCI (a)","date":"2020/08/30","value":89.95},
{"series":"EMCI (a)","date":"2020/09/01","value":90.1},
{"series":"EMCI (a)","date":"2020/09/02","value":90.5},
{"series":"EMCI (a)","date":"2020/09/03","value":90.3},
{"series":"EMCI (a)","date":"2020/09/05","value":90.1},
{"series":"EMCI (a)","date":"2020/09/06","value":90.1},
{"series":"EMCI (a)","date":"2020/09/08","value":89.85},
{"series":"EMCI (a)","date":"2020/09/09","value":89.6},
{"series":"EMCI (a)","date":"2020/09/10","value":90.3},
{"series":"EMCI (a)","date":"2020/09/12","value":90.5},
{"series":"EMCI (a)","date":"2020/09/14","value":90.5},
{"series":"EMCI (a)","date":"2020/09/15","value":90.8},
{"series":"EMCI (a)","date":"2020/09/17","value":91.0},
{"series":"EMCI (a)","date":"2020/09/19","value":90.5},
{"series":"EMCI (a)","date":"2020/09/21","value":90.1},
{"series":"EMCI (a)","date":"2020/09/23","value":89.4},
{"series":"EMCI (a)","date":"2020/09/24","value":88.9},
{"series":"EMCI (a)","date":"2020/09/26","value":88.7},
{"series":"EMCI (a)","date":"2020/09/28","value":88.5},
{"series":"EMCI (a)","date":"2020/09/29","value":88.05},
{"series":"EMCI (a)","date":"2020/09/30","value":88.3},
{"series":"EMCI (a)","date":"2020/10/02","value":88.7},
{"series":"EMCI (a)","date":"2020/10/03","value":88.9},
{"series":"EMCI (a)","date":"2020/10/05","value":88.9},
{"series":"EMCI (a)","date":"2020/10/07","value":89.2},
{"series":"EMCI (a)","date":"2020/10/09","value":89.2},
{"series":"EMCI (a)","date":"2020/10/10","value":89.4},
{"series":"EMCI (a)","date":"2020/10/11","value":89.4},
{"series":"EMCI (a)","date":"2020/10/13","value":89.2},
{"series":"EMCI (a)","date":"2020/10/15","value":88.9},
{"series":"EMCI (a)","date":"2020/10/17","value":89.2},
{"series":"EMCI (a)","date":"2020/10/19","value":89.4},
{"series":"EMCI (a)","date":"2020/10/20","value":89.5},
{"series":"EMCI (a)","date":"2020/10/22","value":89.95}
]},
"layer": [
{
 "data": {"values": [{"base": 100}]},
 "mark": {"type": "rule", "color": "#808080", "strokeWidth": 1.5},
 "encoding": {
  "y": {"field": "base", "type": "quantitative", "scale": {"domain": [65, 105], "nice": false, "zero": false},
        "axis": {"title": null, "values": [65,70,75,80,85,90,95,100,105], "grid": true, "gridDash": [5,3], "gridColor": "#b0b0b0", "gridWidth": 1, "ticks": false, "domainColor": "#8c8c8c", "domainWidth": 1.5, "labelFont": "Liberation Sans", "labelFontSize": 16, "labelColor": "#222222", "labelPadding": 15}}
 }
},
{
 "data": {"name": "idx"},
 "mark": {"type": "line", "strokeWidth": 3, "strokeJoin": "round"},
 "encoding": {
  "x": {"field": "date", "type": "temporal",
        "scale": {"domain": [{"year": 2020, "month": 1, "date": 1}, {"year": 2020, "month": 10, "date": 22}]},
        "axis": {"title": null, "format": "%b-%y", "tickCount": {"interval": "month", "step": 1}, "grid": false, "tickSize": -5, "tickColor": "#8c8c8c", "domainColor": "#8c8c8c", "domainWidth": 1.5, "labelFont": "Liberation Sans", "labelFontSize": 16, "labelColor": "#222222", "labelPadding": 16, "labelFlush": false, "labelOverlap": false}},
  "y": {"field": "value", "type": "quantitative", "scale": {"domain": [65, 105], "nice": false, "zero": false},
        "axis": {"title": null, "values": [65,70,75,80,85,90,95,100,105], "grid": true, "gridDash": [5,3], "gridColor": "#b0b0b0", "gridWidth": 1, "ticks": false, "domainColor": "#8c8c8c", "domainWidth": 1.5, "labelFont": "Liberation Sans", "labelFontSize": 16, "labelColor": "#222222", "labelPadding": 15}},
  "color": {"field": "series", "type": "nominal",
            "scale": {"domain": ["BRAZIL", "TURKEY", "MEXICO", "EMCI (a)"], "range": ["#124e89", "#f07a22", "#a0293f", "#1d7234"]},
            "legend": {"title": null, "orient": "none", "legendX": 2, "legendY": 336, "direction": "horizontal", "columns": 4, "symbolType": "stroke", "symbolSize": 2704, "symbolStrokeWidth": 4, "labelFont": "DejaVu Sans Condensed, Liberation Sans, sans-serif", "labelFontSize": 14, "labelColor": "#444444", "labelOffset": 3, "columnPadding": 9, "padding": 0}}
 }
}
]
}
